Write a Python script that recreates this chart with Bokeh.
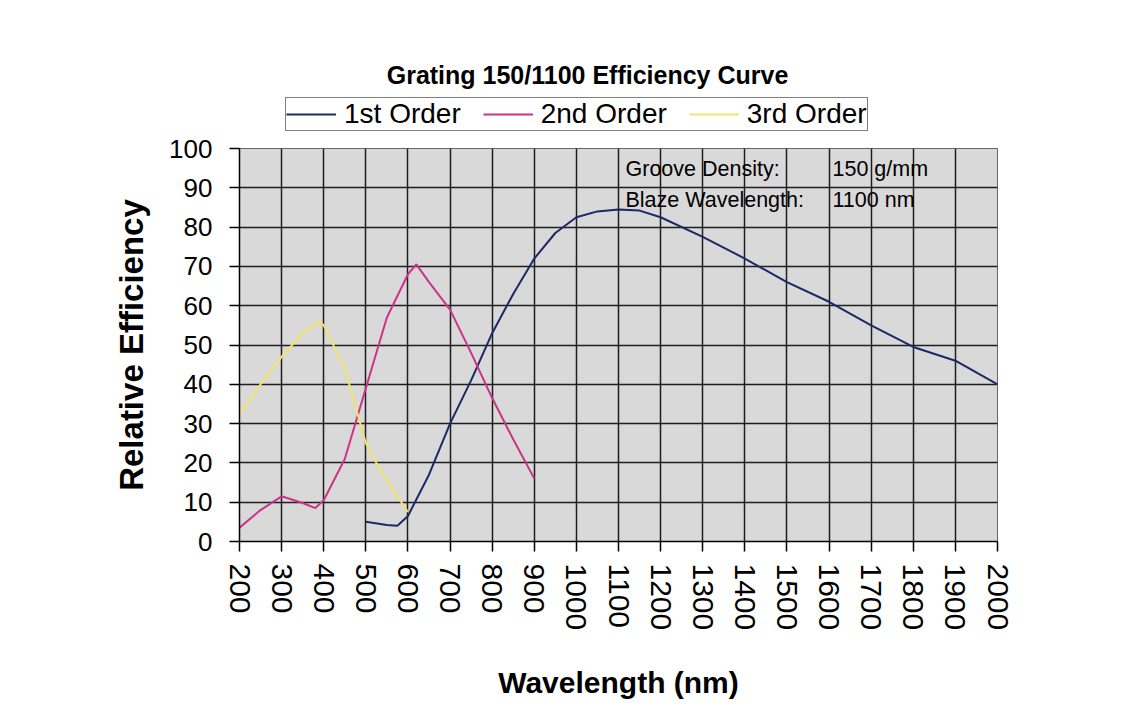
import math
from bokeh.plotting import figure
from bokeh.layouts import column
from bokeh.models import FixedTicker, Legend, LegendItem, Label
from bokeh.embed import file_html
from bokeh.resources import INLINE

# ---- data ----
x_ticks = list(range(200, 2001, 100))
y_ticks = list(range(0, 101, 10))

first_wl = [500, 550, 575, 600, 650, 700, 750, 800, 850, 900, 950, 1000, 1050, 1100,
            1150, 1200, 1300, 1400, 1500, 1600, 1700, 1800, 1900, 2000]
first_eff = [5.0, 4.2, 4.0, 6.5, 17.0, 30.0, 41.0, 53.0, 63.0, 72.0, 78.5, 82.5, 84.0, 84.5,
             84.2, 82.5, 77.5, 72.0, 66.0, 61.0, 55.0, 49.5, 46.0, 40.0]

second_wl = [200, 250, 300, 350, 380, 400, 450, 500, 550, 600, 620, 650, 700, 750, 800, 850, 900]
second_eff = [3.5, 8.0, 11.5, 9.8, 8.5, 10.5, 21.0, 39.0, 57.0, 68.0, 70.5, 66.0, 59.0, 48.0,
              36.5, 26.0, 16.0]

third_wl = [200, 250, 300, 350, 375, 390, 400, 450, 500, 525, 550, 600]
third_eff = [32.5, 40.0, 47.0, 53.0, 55.0, 56.0, 55.0, 44.0, 25.0, 20.0, 15.5, 7.5]

title_text = "Grating 150/1100 Efficiency Curve"
series_names = ["1st Order", "2nd Order", "3rd Order"]
colors = ["#1c2966", "#cc3388", "#f3e46c"]
note_keys = ["Groove Density:", "Blaze Wavelength:"]
note_vals = ["150 g/mm", "1100 nm"]

series = [(first_wl, first_eff), (second_wl, second_eff), (third_wl, third_eff)]

FONT = "Liberation Sans"
W = 1140
TOP_H = 133
FRAME_L, FRAME_R = 239, 997

# ---- header figure: title + legend (its frame is aligned with the chart's frame) ----
head = figure(width=W, height=TOP_H, x_range=(FRAME_L, FRAME_R), y_range=(1000, 1000 + TOP_H),
              output_backend="svg", toolbar_location=None,
              min_border_left=FRAME_L, min_border_right=W - FRAME_R,
              min_border_top=0, min_border_bottom=0)
head.axis.visible = False
head.grid.visible = False
head.outline_line_color = None
head.background_fill_color = "white"
head.border_fill_color = "white"

head.add_layout(Label(x=587, y=1000 + TOP_H - 74, text=title_text, text_font=FONT,
                      text_font_style="bold", text_font_size="25px",
                      text_align="center", text_baseline="middle", text_color="black"))

# legend-only copies of the series (their values lie below this header's visible range)
h_rs = [head.line(xs, ys, line_color=c, line_width=2) for (xs, ys), c in zip(series, colors)]
legend = Legend(items=[LegendItem(label=n, renderers=[r]) for n, r in zip(series_names, h_rs)],
                orientation="horizontal", location=(285 - FRAME_L, TOP_H - 131))
legend.label_text_font = FONT
legend.label_text_font_size = "28px"
legend.label_text_color = "black"
legend.border_line_color = "black"
legend.border_line_width = 1.5
legend.background_fill_color = "white"
legend.background_fill_alpha = 1.0
legend.padding = 0
legend.margin = 0
legend.spacing = 22
legend.glyph_width = 50
legend.label_standoff = 8
head.add_layout(legend, "center")

# ---- main chart ----
p = figure(width=W, height=702 - TOP_H, x_range=(200, 2000), y_range=(0, 100),
           output_backend="svg", toolbar_location=None,
           min_border_left=FRAME_L, min_border_top=15, min_border_right=W - FRAME_R,
           min_border_bottom=161)
p.background_fill_color = "#d9d9d9"
p.border_fill_color = "white"
p.outline_line_color = "#666666"
p.outline_line_width = 1

p.xaxis.ticker = FixedTicker(ticks=x_ticks)
p.yaxis.ticker = FixedTicker(ticks=y_ticks)
p.xgrid.ticker = FixedTicker(ticks=x_ticks)
p.ygrid.ticker = FixedTicker(ticks=y_ticks)
for g in (p.xgrid, p.ygrid):
    g.grid_line_color = "#1e1e1e"
    g.grid_line_width = 1.5
    g.grid_line_alpha = 1.0

for ax in (p.xaxis, p.yaxis):
    ax.axis_line_color = "black"
    ax.axis_line_width = 1.5
    ax.major_tick_line_color = "black"
    ax.major_tick_line_width = 1.5
    ax.major_tick_in = 0
    ax.major_tick_out = 10
    ax.minor_tick_line_color = None
    ax.major_label_text_font = FONT
    ax.major_label_text_color = "black"
    ax.axis_label_text_font = FONT
    ax.axis_label_text_font_style = "bold"
    ax.axis_label_text_color = "black"

p.yaxis.major_label_text_font_size = "26px"
p.yaxis.major_label_standoff = 17
p.yaxis.axis_label = "Relative Efficiency"
p.yaxis.axis_label_text_font_size = "33px"
p.yaxis.axis_label_standoff = 16

p.xaxis.major_label_text_font_size = "30px"
p.xaxis.major_label_orientation = -math.pi / 2
p.xaxis.major_label_standoff = 12
p.xaxis.axis_label = "Wavelength (nm)"
p.xaxis.axis_label_text_font_size = "30px"
p.xaxis.axis_label_standoff = 33

for (xs, ys), c in zip(series, colors):
    p.line(xs, ys, line_color=c, line_width=2)

for i, (k, v) in enumerate(zip(note_keys, note_vals)):
    yy = 373 - i * 31
    p.add_layout(Label(x=386, y=yy, x_units="screen", y_units="screen", text=k,
                       text_font=FONT, text_font_size="21.5px", text_align="left",
                       text_baseline="middle", text_color="black"))
    p.add_layout(Label(x=593, y=yy, x_units="screen", y_units="screen", text=v,
                       text_font=FONT, text_font_size="21.5px", text_align="left",
                       text_baseline="middle", text_color="black"))

layout = column(head, p, spacing=0)
open("out.html", "w").write(file_html(layout, INLINE))
